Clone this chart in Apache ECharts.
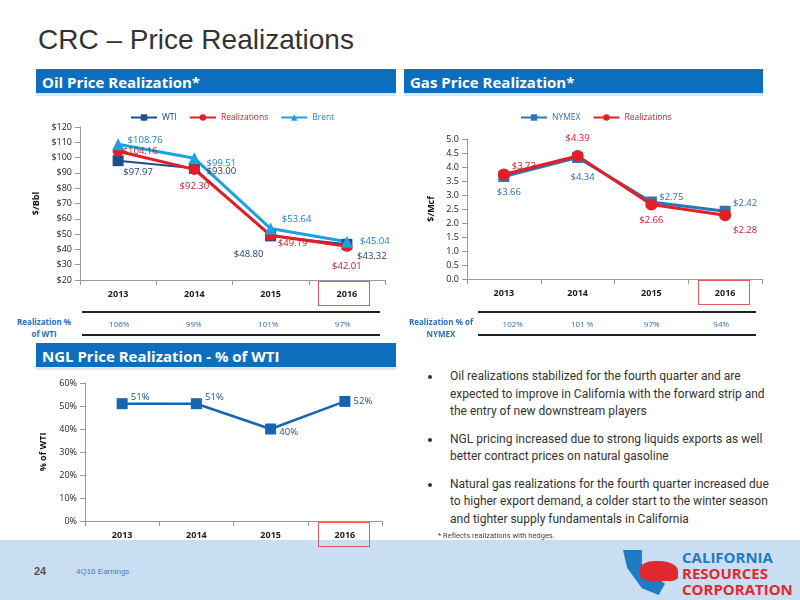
<!DOCTYPE html>
<html>
<head>
<meta charset="utf-8">
<script src="https://cdn.jsdelivr.net/npm/echarts@6/dist/echarts.min.js"></script>
<style>
  body { margin: 0; width: 800px; height: 600px; position: relative; background: #fff; font-family: Calibri, Carlito, "Open Sans", sans-serif; overflow: hidden; }
  .abs { position: absolute; }
  .hdr { position: absolute; height: 27px; background: #0E6EBE; color: #fff; font: bold 15px "Open Sans", sans-serif; line-height: 27px; padding-left: 6px; box-sizing: border-box; border-bottom: 3px solid #dde6ee; }
  .tbl { position: absolute; border-top: 2px solid #222; border-bottom: 2px solid #222; height: 21px; display: flex; }
  .tbl span { flex: 1; text-align: center; color: #2E6DB5; font: 8px "Open Sans", sans-serif; line-height: 21px; }
  .rowlab { position: absolute; color: #2E6DB5; font: bold 8px "Open Sans", sans-serif; text-align: center; line-height: 12px; }
  .box { position: absolute; border: 1.5px solid #E35A5A; }
  ul { margin: 0; padding-left: 22px; }
  li { font: 12px Roboto, sans-serif; color: #333; line-height: 17.5px; margin-bottom: 10px; padding-left: 8px; }
</style>
</head>
<body>
<div class="abs" style="left:0;top:540px;width:800px;height:60px;background:#C9DEF2"></div>
<div class="abs" style="left:38px;top:24px;font:28px Arial, 'Liberation Sans', sans-serif;color:#333">CRC – Price Realizations</div>
<div class="hdr" style="left:36px;top:69px;width:360px">Oil Price Realization*</div>
<div class="hdr" style="left:404px;top:69px;width:359px">Gas Price Realization*</div>
<div class="hdr" style="left:36px;top:343px;width:360px">NGL Price Realization - % of WTI</div>

<div id="oil" class="abs" style="left:0;top:100px;width:400px;height:210px"></div>
<div id="gas" class="abs" style="left:400px;top:100px;width:400px;height:210px"></div>
<div id="ngl" class="abs" style="left:0;top:370px;width:400px;height:175px"></div>

<div class="box" style="left:318px;top:281px;width:50px;height:23px"></div>
<div class="box" style="left:698px;top:280px;width:50px;height:23px"></div>
<div class="box" style="left:318px;top:522px;width:50px;height:23px"></div>

<div class="rowlab" style="left:8px;top:316px;width:72px">Realization %<br>of WTI</div>
<div class="tbl" id="oilTbl" style="left:82px;top:311px;width:298px"></div>
<div class="rowlab" style="left:405px;top:316px;width:72px">Realization % of<br>NYMEX</div>
<div class="tbl" id="gasTbl" style="left:478px;top:311px;width:278px"></div>

<div class="abs" style="left:420px;top:368px;width:362px">
<ul>
<li>Oil realizations stabilized for the fourth quarter and are expected to improve in California with the forward strip and the entry of new downstream players</li>
<li>NGL pricing increased due to strong liquids exports as well better contract prices on natural gasoline</li>
<li>Natural gas realizations for the fourth quarter increased due to higher export demand, a colder start to the winter season and tighter supply fundamentals in California</li>
</ul>
</div>
<div class="abs" style="left:438px;top:531px;font:7.5px Roboto, sans-serif;color:#444">* Reflects realizations with hedges.</div>
<div class="abs" style="left:34px;top:565px;font:bold 11px Arial, sans-serif;color:#555">24</div>
<div class="abs" style="left:76px;top:567px;font:8px Arial, sans-serif;color:#4A7CB8">4Q16 Earnings</div>
<div class="abs" style="left:623px;top:550px;width:42px;height:45px;background:#1F7BC4;clip-path:polygon(0 0,45% 0,45% 35%,100% 75%,85% 100%,45% 85%,10% 40%)"></div>
<div class="abs" style="left:640px;top:561px;width:38px;height:20px;background:#E0282E;border-radius:40% 50% 20% 30%"></div>
<div class="abs" style="left:682px;top:549px;font:bold 15px 'Open Sans', sans-serif;line-height:16px;color:#1F7BC4">CALIFORNIA<br><span style="color:#E0282E">RESOURCES</span><br><span style="color:#E0282E">CORPORATION</span></div>

<script>
const years = ['2013', '2014', '2015', '2016'];
const wti = [97.97, 93.00, 48.80, 43.32];
const oilReal = [104.16, 92.30, 49.19, 42.01];
const brent = [108.76, 99.51, 53.64, 45.04];
const oilPct = ['106%', '99%', '101%', '97%'];
const nymex = [3.66, 4.34, 2.75, 2.42];
const gasReal = [3.73, 4.39, 2.66, 2.28];
const gasPct = ['102%', '101 %', '97%', '94%'];
const ngl = [51, 51, 40, 52];

document.getElementById('oilTbl').innerHTML = oilPct.map(p => '<span>' + p + '</span>').join('');
document.getElementById('gasTbl').innerHTML = gasPct.map(p => '<span>' + p + '</span>').join('');

const FONT = 'Open Sans';
const axisLine = { lineStyle: { color: '#999' } };

function pts(vals, offsets, fmt, color) {
  return vals.map((v, i) => ({
    value: v,
    label: { show: true, position: 'inside', offset: offsets[i], formatter: fmt, color: color, fontSize: 9.5, fontFamily: FONT }
  }));
}
function xAxis() {
  return {
    type: 'category', data: years, axisLine: axisLine, axisTick: { show: true, lineStyle: { color: '#999' } },
    axisLabel: { color: '#222', fontWeight: 'bold', fontSize: 9, fontFamily: FONT, margin: 10 }
  };
}
function yAxis(min, max, interval, name, gap, fmt) {
  return {
    type: 'value', min: min, max: max, interval: interval, name: name, nameLocation: 'middle', nameGap: gap,
    nameTextStyle: { fontWeight: 'bold', fontSize: 9, fontFamily: FONT, color: '#111' },
    axisLine: Object.assign({ show: true }, axisLine), axisTick: { show: true, lineStyle: { color: '#999' } }, splitLine: { show: false },
    axisLabel: { formatter: fmt, color: '#222', fontSize: 9, fontFamily: FONT }
  };
}
function legend(names, colors, left) {
  return {
    top: 8, left: left, itemWidth: 26, itemHeight: 8, itemGap: 12,
    data: names.map((n, i) => ({ name: n, textStyle: { color: colors[i] } })),
    textStyle: { fontSize: 8.5, fontFamily: FONT }
  };
}

const usd = p => '$' + p.value.toFixed(2);

echarts.init(document.getElementById('oil')).setOption({
  animation: false,
  grid: { left: 80, right: 15, top: 27, bottom: 30 },
  legend: legend(['WTI', 'Realizations', 'Brent'], ['#1F3B70', '#D0202A', '#1F8FD0'], 125),
  xAxis: xAxis(),
  yAxis: yAxis(20, 120, 10, '$/Bbl', 26, '${value}'),
  series: [
    { name: 'WTI', type: 'line', symbol: 'rect', symbolSize: 11, color: '#1F4E8C', lineStyle: { width: 2 },
      data: pts(wti, [[20, 12], [27, 3], [-22, 18], [25, 12]], usd, '#1F3B70') },
    { name: 'Realizations', type: 'line', symbol: 'circle', symbolSize: 11, color: '#E31E24', lineStyle: { width: 3 },
      data: pts(oilReal, [[22, 0], [0, 17], [22, 8], [0, 20]], usd, '#C0202A') },
    { name: 'Brent', type: 'line', symbol: 'triangle', symbolSize: 12, color: '#1AA3E0', lineStyle: { width: 3 },
      data: pts(brent, [[27, -4], [27, 5], [26, -9], [28, 0]], usd, '#1F7FC0') }
  ]
});

echarts.init(document.getElementById('gas')).setOption({
  animation: false,
  grid: { left: 67, right: 38, top: 39, bottom: 31 },
  legend: legend(['NYMEX', 'Realizations'], ['#2E6DB5', '#D0202A'], 115),
  xAxis: xAxis(),
  yAxis: yAxis(0, 5, 0.5, '$/Mcf', 30, v => v.toFixed(1)),
  series: [
    { name: 'NYMEX', type: 'line', symbol: 'rect', symbolSize: 11, color: '#2E75B6', lineStyle: { width: 3 },
      data: pts(nymex, [[5, 16], [5, 20], [20, -5], [20, -8]], usd, '#2E6DB5') },
    { name: 'Realizations', type: 'line', symbol: 'circle', symbolSize: 12, color: '#E31E24', lineStyle: { width: 3 },
      data: pts(gasReal, [[20, -8], [0, -18], [0, 16], [20, 15]], usd, '#D0202A') }
  ]
});

echarts.init(document.getElementById('ngl')).setOption({
  animation: false,
  grid: { left: 85, right: 18, top: 13, bottom: 24 },
  xAxis: xAxis(),
  yAxis: yAxis(0, 60, 10, '% of WTI', 36, '{value}%'),
  series: [
    { name: 'NGL', type: 'line', symbol: 'rect', symbolSize: 11, color: '#1565B5', lineStyle: { width: 2.5 },
      data: pts(ngl, [[18, -6], [18, -6], [18, 3], [18, 0]], p => p.value + '%', '#1F4E8C') }
  ]
});
</script>
</body>
</html>
